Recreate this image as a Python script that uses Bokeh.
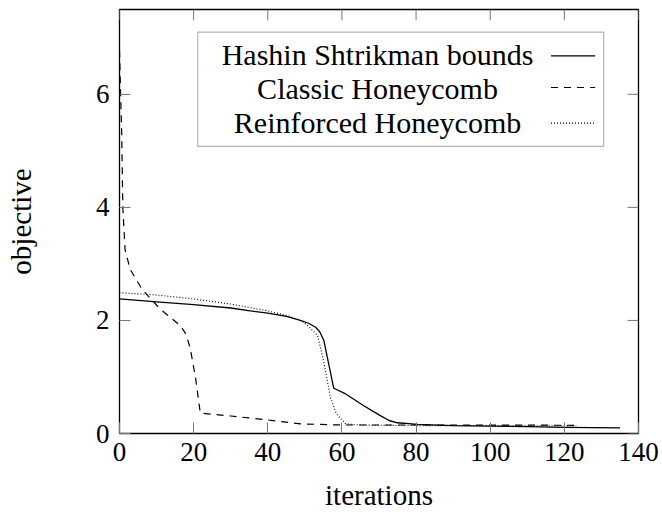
from bokeh.plotting import figure
from bokeh.models import BoxAnnotation, Label, Arrow, FixedTicker, Range1d
from bokeh.embed import file_html
from bokeh.resources import INLINE

# ---- data ----
hs_x = [0, 10, 20, 30, 35.3, 40, 45, 48.8, 51, 52.9, 54, 55.1, 57.8, 61, 65.9, 70, 72.7, 75, 80.4, 90, 100, 110, 120, 135]
hs_y = [2.38, 2.33, 2.28, 2.22, 2.17, 2.13, 2.07, 2.0, 1.95, 1.88, 1.8, 1.65, 0.8, 0.7, 0.49, 0.33, 0.23, 0.19, 0.16, 0.14, 0.13, 0.12, 0.11, 0.1]

classic_x = [0, 0.3, 0.6, 0.9, 1.5, 2.9, 6.1, 11, 16.4, 18, 19.1, 20.5, 21.8, 30, 40, 48.8, 60, 80, 100, 123.2]
classic_y = [6.78, 6.0, 5.3, 4.0, 3.25, 2.9, 2.55, 2.2, 1.91, 1.75, 1.5, 0.99, 0.36, 0.31, 0.24, 0.17, 0.15, 0.15, 0.15, 0.145]

reinf_x = [0, 10, 20, 30, 40, 46, 49.7, 53.4, 55.1, 56.9, 58.5, 61, 65, 70, 80, 90, 100, 110, 123.2]
reinf_y = [2.49, 2.45, 2.38, 2.29, 2.17, 2.07, 1.97, 1.74, 1.27, 0.64, 0.35, 0.17, 0.15, 0.145, 0.14, 0.14, 0.135, 0.135, 0.135]

series_names = ["Hashin Shtrikman bounds", "Classic Honeycomb", "Reinforced Honeycomb"]
x_ticks = [0, 20, 40, 60, 80, 100, 120, 140]
y_ticks = [0, 2, 4, 6]

X_MAX = 140
Y_MAX = 7.5
FONT = "Liberation Serif"
TICK_PX = 11

W, H = 660, 513
ML, MR, MT, MB = 119, 22, 9, 73
px_x = (W - ML - MR) / X_MAX
px_y = (H - MT - MB) / Y_MAX

p = figure(width=W, height=H, output_backend="svg", toolbar_location=None,
           x_range=Range1d(0, X_MAX), y_range=Range1d(0, Y_MAX),
           x_axis_label="iterations", y_axis_label="objective",
           min_border_left=ML, min_border_right=MR, min_border_top=MT, min_border_bottom=MB)
p.grid.visible = False
p.background_fill_color = "white"
p.border_fill_color = "white"
p.outline_line_color = "black"
p.outline_line_width = 1.3

for ax, ticks in ((p.xaxis[0], x_ticks), (p.yaxis[0], y_ticks)):
    ax.ticker = FixedTicker(ticks=ticks)
    ax.major_tick_in = TICK_PX
    ax.major_tick_out = 0
    ax.minor_tick_in = 0
    ax.minor_tick_out = 0
    ax.major_tick_line_color = "#777777"
    ax.major_tick_line_width = 1
    ax.axis_line_color = None
    ax.major_label_text_font = FONT
    ax.major_label_text_font_size = "27px"
    ax.major_label_text_color = "black"
    ax.axis_label_text_font = FONT
    ax.axis_label_text_font_size = "29px"
    ax.axis_label_text_font_style = "normal"
    ax.axis_label_text_color = "black"

p.xaxis[0].major_label_standoff = 9
p.xaxis[0].axis_label_standoff = 15
p.yaxis[0].major_label_standoff = 10
p.yaxis[0].axis_label_standoff = 56

# mirrored inward ticks on top and right edges (pgfplots style)
p.segment(x0=x_ticks, y0=[Y_MAX] * len(x_ticks), x1=x_ticks, y1=[Y_MAX - TICK_PX / px_y] * len(x_ticks),
          line_color="#777777", line_width=1)
p.segment(x0=[X_MAX] * len(y_ticks), y0=y_ticks, x1=[X_MAX - TICK_PX / px_x] * len(y_ticks), y1=y_ticks,
          line_color="#777777", line_width=1)

p.line(hs_x, hs_y, line_color="black", line_width=1.3)
p.line(classic_x, classic_y, line_color="black", line_width=1.2, line_dash="7 6")
p.line(reinf_x, reinf_y, line_color="black", line_width=1.1, line_dash="1 2")

# ---- legend (label left, sample right, as in the reference) ----
p.add_layout(BoxAnnotation(left=21.1, right=130.6, bottom=5.08, top=7.10,
                           fill_color="white", fill_alpha=1.0,
                           line_color="black", line_width=1.2))
label_base = [6.71, 6.11, 5.51]
sample_y = [6.68, 6.12, 5.49]
dashes = ["solid", "7 6", "1 2"]
for name, yb, ys, dash in zip(series_names, label_base, sample_y, dashes):
    p.add_layout(Label(x=69.6, y=yb, text=name, text_align="center", text_baseline="alphabetic",
                       text_font=FONT, text_font_size="30px", text_color="black"))
    p.add_layout(Arrow(start=None, end=None, x_start=116.4, y_start=ys, x_end=128.3, y_end=ys,
                       line_color="black", line_width=1.2, line_dash=dash))

open("out.html", "w").write(file_html(p, INLINE))
